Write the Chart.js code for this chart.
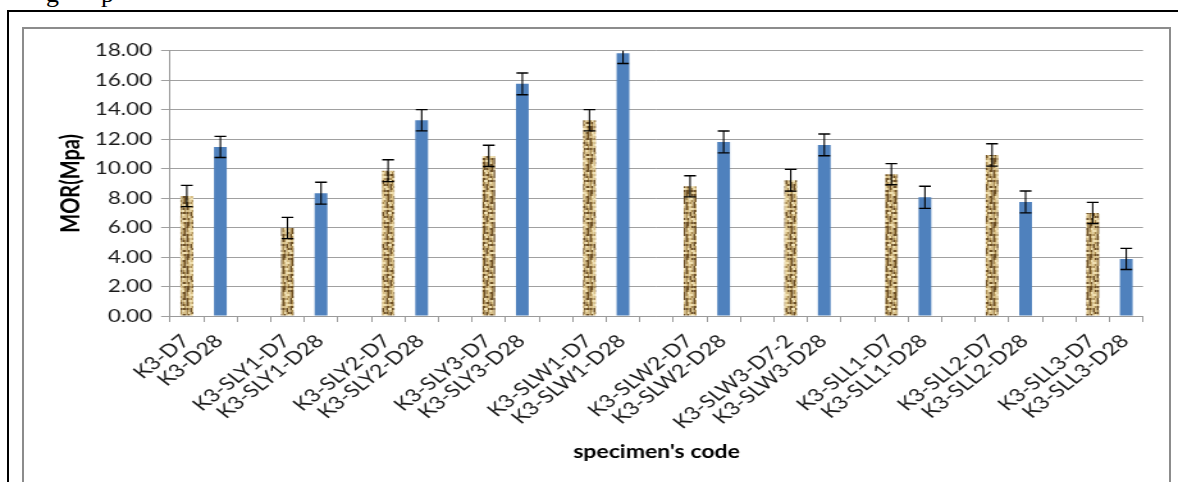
<!DOCTYPE html>
<html>
<head>
<meta charset="utf-8">
<script src="https://cdn.jsdelivr.net/npm/chart.js@4/dist/chart.umd.min.js"></script>
<style>
  html, body { margin: 0; padding: 0; background: #fff; }
  body { width: 1178px; height: 482px; overflow: hidden; position: relative; }
  #wrap { position: absolute; left: 0; top: 0; width: 920px; height: 482px;
          transform: scaleX(1.2804); transform-origin: 0 0; }
  #outer { position: absolute; left: 7px; top: 10px; width: 1200px; height: 500px;
           border-left: 2px solid #000; border-top: 2px solid #000; }
  #frame { position: absolute; left: 22px; top: 27px; width: 1145px; height: 500px;
           border: 2px solid #8c8c8c; }
  .frag { position: absolute; top: -19px; font: 26px 'Liberation Serif', serif;
          line-height: 26px; color: #000; }
</style>
</head>
<body>
<span class="frag" style="left:46px">g</span>
<span class="frag" style="left:101px">p</span>
<div id="wrap"><canvas id="c" width="920" height="482"></canvas></div>
<div id="outer"></div>
<div id="frame"></div>
<script>
// Specimen codes: pairs of 7-day / 28-day results, separated by an empty slot
const codes = [
  'K3-D7', 'K3-D28', '',
  'K3-SLY1-D7', 'K3-SLY1-D28', '',
  'K3-SLY2-D7', 'K3-SLY2-D28', '',
  'K3-SLY3-D7', 'K3-SLY3-D28', '',
  'K3-SLW1-D7', 'K3-SLW1-D28', '',
  'K3-SLW2-D7', 'K3-SLW2-D28', '',
  'K3-SLW3-D7-2', 'K3-SLW3-D28', '',
  'K3-SLL1-D7', 'K3-SLL1-D28', '',
  'K3-SLL2-D7', 'K3-SLL2-D28', '',
  'K3-SLL3-D7', 'K3-SLL3-D28'
];

// Modulus of rupture (MPa)
const mor = [
  8.14, 11.47, null,
  5.97, 8.33, null,
  9.86, 13.28, null,
  10.86, 15.75, null,
  13.28, 17.83, null,
  8.80, 11.81, null,
  9.21, 11.61, null,
  9.62, 8.05, null,
  10.93, 7.74, null,
  6.99, 3.87
];

// Error bar half-widths (MPa)
const morErr = [
  0.72, 0.72, null,
  0.72, 0.74, null,
  0.74, 0.72, null,
  0.72, 0.74, null,
  0.72, 0.70, null,
  0.72, 0.74, null,
  0.74, 0.74, null,
  0.72, 0.75, null,
  0.76, 0.74, null,
  0.72, 0.72
];

const yTicks = [0, 2, 4, 6, 8, 10, 12, 14, 16, 18];

// Woven tan texture used for the 7-day bars
function makeTexture() {
  const rows = [
    'llmwwlmddl',
    'dddmlwmdml',
    'lmdmlddmwl',
    'wmdllmdmlw',
    'mmddmmdlll',
    'ldwlldddmm',
    'ldmwmlwdlw',
    'mdmddmldml',
    'wlllmdmdmw',
    'mddmlwmlll',
    'ldwwddddmd',
    'lmmlmwlmld',
    'ddmdmllmwm',
    'wlmdlddmdl',
    'mwldmwwlml',
    'dddmlmdddm'
  ];
  const pal = { d: '#6e5024', m: '#a98b52', l: '#d8bf86', w: '#f1e0ae' };
  const cw = 1.5, ch = 2;
  const t = document.createElement('canvas');
  t.width = rows[0].length * cw; t.height = rows.length * ch;
  const g = t.getContext('2d');
  rows.forEach((r, yy) => {
    for (let xx = 0; xx < r.length; xx++) {
      g.fillStyle = pal[r[xx]];
      g.fillRect(xx * cw, yy * ch, cw, ch);
    }
  });
  return document.getElementById('c').getContext('2d').createPattern(t, 'repeat');
}

const texture = makeTexture();
const barColors = codes.map(c => /-D7/.test(c) ? texture : '#4f81bd');

// Error bars: value ± half-width, with short caps
const errorBars = {
  id: 'errorBars',
  afterDatasetsDraw(chart) {
    const { ctx, chartArea, scales: { y } } = chart;
    const meta = chart.getDatasetMeta(0);
    ctx.save();
    ctx.beginPath();
    ctx.rect(chartArea.left, chartArea.top, chartArea.right - chartArea.left, chartArea.bottom - chartArea.top);
    ctx.clip();
    ctx.strokeStyle = '#000';
    meta.data.forEach((bar, i) => {
      if (mor[i] == null || morErr[i] == null) return;
      const x = bar.x;
      const yHi = y.getPixelForValue(mor[i] + morErr[i]);
      const yLo = y.getPixelForValue(mor[i] - morErr[i]);
      ctx.lineWidth = 1.1;
      ctx.beginPath();
      ctx.moveTo(x, yHi); ctx.lineTo(x, yLo);
      ctx.stroke();
      ctx.lineWidth = 1.4;
      ctx.beginPath();
      ctx.moveTo(x - 4.6, yHi); ctx.lineTo(x + 4.6, yHi);
      ctx.moveTo(x - 4.6, yLo); ctx.lineTo(x + 4.6, yLo);
      ctx.stroke();
    });
    ctx.restore();
  }
};

// Category labels, rotated 45°, ending at their slot
const slantedLabels = {
  id: 'slantedLabels',
  afterDraw(chart) {
    const { ctx, chartArea, scales: { x } } = chart;
    ctx.save();
    ctx.fillStyle = '#1a1a1a';
    ctx.font = '18px Lato';
    ctx.textAlign = 'right';
    ctx.textBaseline = 'middle';
    codes.forEach((code, i) => {
      if (!code) return;
      ctx.save();
      ctx.translate(x.getPixelForValue(i) - 1, chartArea.bottom + 22);
      ctx.rotate(-Math.PI / 4);
      ctx.fillText(code, 0, 0);
      ctx.restore();
    });
    ctx.restore();
  }
};

new Chart(document.getElementById('c'), {
  type: 'bar',
  data: {
    labels: codes,
    datasets: [{
      data: mor,
      backgroundColor: barColors,
      borderWidth: 0,
      categoryPercentage: 1.0,
      barPercentage: 0.38
    }]
  },
  options: {
    responsive: false,
    animation: false,
    devicePixelRatio: 1,
    layout: { padding: { left: 18, right: 27.3, top: 50.7, bottom: 0 } },
    plugins: { legend: { display: false }, tooltip: { enabled: false } },
    scales: {
      x: {
        afterFit(s) { s.height = 166; },
        grid: { display: true, drawOnChartArea: false, drawTicks: true, tickLength: 6, color: '#9a9a9a', offset: true },
        border: { display: true, color: '#9a9a9a', width: 1 },
        ticks: { display: false, autoSkip: false },
        title: {
          display: true, text: "specimen's code", color: '#000',
          font: { family: 'Lato', size: 18, weight: 'bold' },
          padding: { top: 0, bottom: 19.5 }
        }
      },
      y: {
        min: 0, max: 18,
        afterFit(s) { s.width = 114.8; },
        afterBuildTicks(s) { s.ticks = yTicks.map(v => ({ value: v })); },
        grid: { color: '#a0a0a0', lineWidth: 1, tickLength: 7, drawTicks: true },
        border: { display: true, color: '#9a9a9a', width: 1 },
        ticks: {
          padding: 7, color: '#1a1a1a', font: { family: 'Lato', size: 17.5 },
          callback: v => Number(v).toFixed(2)
        },
        title: {
          display: true, text: 'MOR(Mpa)', color: '#000',
          font: { family: 'Lato', size: 20, weight: 'bold' },
          padding: { top: 26, bottom: 0 }
        }
      }
    }
  },
  plugins: [errorBars, slantedLabels]
});
</script>
</body>
</html>
